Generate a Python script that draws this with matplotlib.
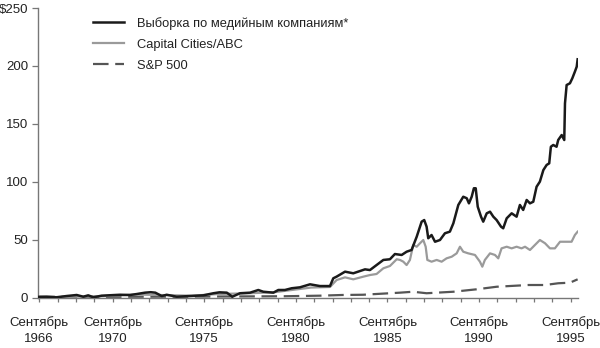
import matplotlib
matplotlib.use("Agg")
import matplotlib.pyplot as plt
from matplotlib import font_manager

# ---- data (decimal years, $ value) ----
media_years = [1966.67, 1967.07, 1967.62, 1968.16, 1968.71, 1969.07, 1969.34, 1969.62, 1970.07, 1971.07,
               1971.62, 1971.98, 1972.44, 1972.75, 1973.0, 1973.35, 1973.62, 1974.17, 1974.89, 1975.62,
               1976.17, 1976.5, 1976.9, 1977.2, 1977.62, 1978.17, 1978.62, 1978.89, 1979.44, 1979.71,
               1980.07, 1980.44, 1980.89, 1981.44, 1981.98, 1982.53, 1982.71, 1982.89, 1983.35, 1983.80,
               1984.44, 1984.71, 1985.07, 1985.44, 1985.80, 1986.07, 1986.44, 1986.71, 1986.98, 1987.26,
               1987.53, 1987.67, 1987.80, 1987.89, 1988.07, 1988.26, 1988.53, 1988.80, 1989.07, 1989.26,
               1989.53, 1989.80, 1989.99, 1990.11, 1990.26, 1990.38, 1990.48, 1990.59, 1990.77, 1990.89,
               1991.08, 1991.26, 1991.44, 1991.62, 1991.86, 1991.98, 1992.17, 1992.44, 1992.71, 1992.89,
               1993.07, 1993.26, 1993.44, 1993.62, 1993.80, 1993.98, 1994.17, 1994.35, 1994.49, 1994.58,
               1994.71, 1994.89, 1994.98, 1995.17, 1995.31, 1995.35, 1995.44, 1995.62, 1995.75, 1995.89,
               1995.99, 1996.04]
media_values = [1.0, 1.1, 0.6, 1.7, 2.6, 1.1, 2.3, 0.6, 2.0, 2.8,
                2.6, 3.4, 4.6, 5.0, 4.6, 1.7, 2.8, 1.1, 1.7, 2.3,
                4.1, 4.9, 4.6, 1.1, 4.1, 4.6, 6.9, 5.4, 4.6, 6.9,
                6.9, 8.4, 9.2, 11.8, 10.3, 10.3, 17.0, 18.4, 22.7, 21.3,
                24.7, 24.1, 28.4, 32.8, 33.4, 37.9, 37.1, 39.9, 41.4, 52.8,
                65.8, 67.2, 61.5, 51.5, 54.3, 48.5, 50.0, 55.8, 57.2, 64.4,
                80.2, 87.3, 86.0, 81.6, 87.3, 94.6, 94.6, 78.7, 70.1, 65.8,
                73.0, 74.4, 70.1, 67.2, 61.5, 60.1, 68.7, 73.0, 70.1, 80.2,
                75.9, 84.5, 81.6, 83.0, 95.9, 100.3, 110.3, 114.7, 116.1, 130.4,
                131.9, 130.4, 136.2, 140.5, 136.2, 167.8, 183.6, 185.1, 189.4, 195.1,
                199.4, 205.8]

capcities_years = [1966.67, 1968.0, 1970.0, 1972.0, 1973.5, 1975.0, 1976.5, 1978.0, 1979.5, 1980.5,
                   1981.5, 1982.53, 1982.89, 1983.35, 1983.80, 1984.35, 1984.71, 1985.07, 1985.44, 1985.80,
                   1986.17, 1986.35, 1986.53, 1986.71, 1986.89, 1987.07, 1987.26, 1987.44, 1987.62, 1987.75,
                   1987.84, 1988.07, 1988.35, 1988.62, 1988.89, 1989.17, 1989.44, 1989.62, 1989.80, 1990.07,
                   1990.44, 1990.71, 1990.84, 1990.98, 1991.26, 1991.53, 1991.71, 1991.89, 1992.17, 1992.44,
                   1992.71, 1992.98, 1993.17, 1993.44, 1993.71, 1993.98, 1994.26, 1994.53, 1994.80, 1995.08,
                   1995.44, 1995.71, 1995.89, 1996.04]
capcities_values = [0.5, 1.0, 1.5, 3.0, 2.5, 2.0, 3.5, 4.0, 5.0, 7.0,
                    9.0, 9.5, 15.5, 17.8, 16.1, 18.4, 19.8, 20.7, 25.6, 27.6,
                    33.4, 32.8, 31.3, 28.4, 32.8, 45.7, 44.2, 47.2, 50.0, 44.2,
                    32.8, 31.3, 32.8, 31.3, 34.2, 35.6, 38.5, 44.2, 39.9, 38.5,
                    37.1, 31.3, 27.0, 32.8, 38.5, 37.1, 34.2, 42.8, 44.2, 42.8,
                    44.2, 42.8, 44.2, 41.4, 45.7, 50.0, 47.2, 42.8, 42.8, 48.5,
                    48.5, 48.5, 54.3, 57.2]

sp500_years = [1966.67, 1970.0, 1975.0, 1980.0, 1981.98, 1983.2, 1984.33, 1986.35, 1987.06, 1987.8,
               1989.26, 1990.53, 1991.62, 1993.35, 1994.26, 1994.98, 1995.62, 1996.04]
sp500_values = [1.0, 1.0, 1.2, 1.5, 2.0, 2.6, 2.8, 4.6, 5.4, 4.1,
                5.4, 7.5, 9.7, 11.2, 11.2, 12.7, 13.2, 16.1]

series_labels = ["Выборка по медийным компаниям*", "Capital Cities/ABC", "S&P 500"]
tick_years = list(range(1966, 1996))
label_years = [1966, 1970, 1975, 1980, 1985, 1990, 1995]
y_ticks = [0, 50, 100, 150, 200, 250]
y_ticklabels = ["0", "50", "100", "150", "200", "$250"]

# ---- font ----
names = {f.name for f in font_manager.fontManager.ttflist}
fam = ["Liberation Sans Narrow", "DejaVu Sans"] if "Liberation Sans Narrow" in names else ["Liberation Sans", "DejaVu Sans"]
plt.rcParams["font.family"] = fam
FS = 9.3

fig = plt.figure(figsize=(6.0, 3.48), dpi=100)
ax = fig.add_axes([38 / 600, 1 - 298 / 348, 540 / 600, 290 / 348])

ax.plot(sp500_years, sp500_values, color="#555555", lw=1.6, dashes=(7, 3), label=series_labels[2], zorder=2)
ax.plot(capcities_years, capcities_values, color="#9a9a9a", lw=1.6, label=series_labels[1], zorder=3)
ax.plot(media_years, media_values, color="#1a1a1a", lw=1.8, label=series_labels[0], zorder=4)

ax.set_xlim(1966.60, 1996.06)
ax.set_ylim(0, 250)

sept = 8 / 12
ax.set_xticks([y + sept for y in tick_years])
ax.set_xticklabels([f"Сентябрь\n{y}" if y in label_years else "" for y in tick_years],
                   fontsize=FS + 0.2, linespacing=1.45)
ax.set_yticks(y_ticks)
ax.set_yticklabels(y_ticklabels, fontsize=FS + 0.2)

for s in ("top", "right"):
    ax.spines[s].set_visible(False)
for s in ("left", "bottom"):
    ax.spines[s].set_color("#777777")
    ax.spines[s].set_linewidth(1.0)
ax.tick_params(axis="x", direction="out", length=3, width=0.9, color="#777777", pad=10, labelcolor="#222222")
ax.tick_params(axis="y", direction="out", length=4, width=0.9, color="#777777", pad=3, labelcolor="#222222")

h, l = ax.get_legend_handles_labels()
order = [2, 1, 0]
leg = ax.legend([h[i] for i in order], [l[i] for i in order], loc="upper left",
                bbox_to_anchor=(0.080, 1.009), frameon=False, fontsize=FS,
                handlelength=2.4, handletextpad=1.0, labelspacing=0.68)
for t in leg.get_texts():
    t.set_color("#222222")

fig.savefig("out.png", dpi=100)
